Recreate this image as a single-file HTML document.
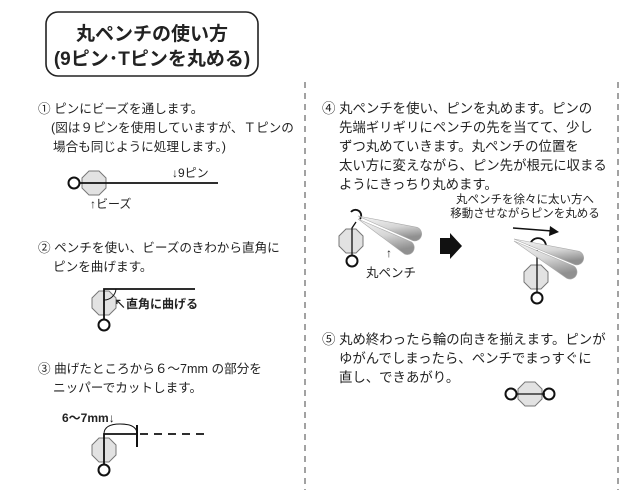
<!DOCTYPE html>
<html><head><meta charset="utf-8"><style>
html,body{margin:0;padding:0;background:#fff;}
svg{display:block;}
text{font-family:"Liberation Sans","Noto Sans CJK JP",sans-serif;fill:#222;}
</style></head><body>
<svg width="620" height="490" viewBox="0 0 620 490" xmlns="http://www.w3.org/2000/svg">
<defs>
<linearGradient id="pg" x1="0" y1="0" x2="0.3" y2="1">
<stop offset="0" stop-color="#f6f6f6"/><stop offset="0.55" stop-color="#d6d6d6"/><stop offset="1" stop-color="#909090"/>
</linearGradient>
<g id="oct"><polygon points="-5,-12 5,-12 12,-5 12,5 5,12 -5,12 -12,5 -12,-5" fill="#e2e2e2" stroke="#777" stroke-width="1"/></g>
</defs>
<rect x="46" y="12" width="212" height="64" rx="12" fill="#fff" stroke="#222" stroke-width="1.6"/>
<text x="152" y="40" font-size="19" font-weight="bold" text-anchor="middle">丸ペンチの使い方</text>
<text x="152" y="65" font-size="19" font-weight="bold" text-anchor="middle">(9ピン･Tピンを丸める)</text>
<line x1="305" y1="82" x2="305" y2="490" stroke="#444" stroke-width="1" stroke-dasharray="6,5"/>
<line x1="618" y1="82" x2="618" y2="490" stroke="#444" stroke-width="1" stroke-dasharray="6,5"/>
<g font-size="12.6">
<text x="38" y="113">① ピンにビーズを通します。</text>
<text x="51" y="132">(図は９ピンを使用していますが、Ｔピンの</text>
<text x="53" y="151">場合も同じように処理します。)</text>
<text x="38" y="252">② ペンチを使い、ビーズのきわから直角に</text>
<text x="53" y="271">ピンを曲げます。</text>
<text x="38" y="373">③ 曲げたところから６～7mm の部分を</text>
<text x="53" y="392">ニッパーでカットします。</text>
</g>
<g font-size="13.4">
<text x="322" y="113">④ 丸ペンチを使い、ピンを丸めます。ピンの</text>
<text x="339" y="132">先端ギリギリにペンチの先を当てて、少し</text>
<text x="339" y="151">ずつ丸めていきます。丸ペンチの位置を</text>
<text x="339" y="170">太い方に変えながら、ピン先が根元に収まる</text>
<text x="339" y="189">ようにきっちり丸めます。</text>
<text x="322" y="344">⑤ 丸め終わったら輪の向きを揃えます。ピンが</text>
<text x="339" y="363">ゆがんでしまったら、ペンチでまっすぐに</text>
<text x="339" y="382">直し、できあがり。</text>
</g>
<!-- diagram 1 -->
<circle cx="74" cy="183" r="5.5" fill="none" stroke="#111" stroke-width="2"/>
<use href="#oct" x="94" y="183"/>
<line x1="80" y1="183" x2="218" y2="183" stroke="#111" stroke-width="1.8"/>
<text x="172" y="177" font-size="12">↓9ピン</text>
<text x="90" y="208" font-size="12">↑ビーズ</text>
<!-- diagram 2 -->
<use href="#oct" x="104" y="303"/>
<polyline points="104,319 104,289 195,289" fill="none" stroke="#111" stroke-width="1.8"/>
<circle cx="104" cy="325" r="5.5" fill="none" stroke="#111" stroke-width="2"/>
<path d="M104,300 A12,12 0 0 0 116,289" fill="none" stroke="#111" stroke-width="1"/>
<text x="114" y="308" font-size="12" font-weight="bold">↖直角に曲げる</text>
<!-- diagram 3 -->
<use href="#oct" x="104" y="450"/>
<polyline points="104,464 104,434 137,434" fill="none" stroke="#111" stroke-width="1.8"/>
<circle cx="104" cy="470" r="5.5" fill="none" stroke="#111" stroke-width="2"/>
<path d="M104,434 Q104,424 120,424 Q137,424 137,434" fill="none" stroke="#111" stroke-width="1"/>
<line x1="137" y1="425" x2="137" y2="447" stroke="#111" stroke-width="2"/>
<line x1="140" y1="434" x2="206" y2="434" stroke="#111" stroke-width="1.8" stroke-dasharray="8,6"/>
<text x="62" y="422" font-size="12" font-weight="bold">6～7mm↓</text>
<!-- diagram 4 left -->
<use href="#oct" x="351" y="241"/>
<polyline points="352,255 352,228 356,222" fill="none" stroke="#111" stroke-width="1.3"/>
<circle cx="352" cy="261" r="5.5" fill="none" stroke="#111" stroke-width="2"/>
<path d="M351,212 A5,5 0 1 1 360,219" fill="none" stroke="#111" stroke-width="1.8"/>
<path d="M358,216 L417,227.3 A7,7 0 0 1 413,240.7 Z" fill="url(#pg)" stroke="#aaa" stroke-width="0.6"/>
<path d="M358,219 L411.5,242 A7,7 0 0 1 404.5,254 Z" fill="url(#pg)" stroke="#aaa" stroke-width="0.6"/>
<text x="386" y="257" font-size="12">↑</text>
<text x="366" y="277" font-size="12.5">丸ペンチ</text>
<polygon points="440,238 450,238 450,233 462,246 450,259 450,254 440,254" fill="#111"/>
<!-- diagram 4 right -->
<text x="525" y="203" font-size="11.5" text-anchor="middle">丸ペンチを徐々に太い方へ</text>
<text x="525" y="217" font-size="11.5" text-anchor="middle">移動させながらピンを丸める</text>
<line x1="513" y1="228" x2="552" y2="231" stroke="#111" stroke-width="1.5"/>
<polygon points="559,232 550,226 549,236" fill="#111"/>
<use href="#oct" x="536" y="277"/>
<line x1="537" y1="250" x2="537" y2="292" stroke="#111" stroke-width="1.3"/>
<circle cx="537" cy="298" r="5.5" fill="none" stroke="#111" stroke-width="2"/>
<path d="M530,246 A8,8 0 1 1 545,250" fill="none" stroke="#111" stroke-width="1.8"/>
<path d="M514,239 L579,251.3 A7,7 0 0 1 575,264.7 Z" fill="url(#pg)" stroke="#aaa" stroke-width="0.6"/>
<path d="M514,241 L573.5,265.9 A7,7 0 0 1 566.5,278.1 Z" fill="url(#pg)" stroke="#aaa" stroke-width="0.6"/>
<!-- diagram 5 -->
<circle cx="511" cy="394" r="5.5" fill="none" stroke="#111" stroke-width="2"/>
<use href="#oct" x="530" y="394"/>
<line x1="516" y1="394" x2="545" y2="394" stroke="#111" stroke-width="1.3"/>
<circle cx="549" cy="394" r="5.5" fill="none" stroke="#111" stroke-width="2"/>
</svg>
</body></html>
